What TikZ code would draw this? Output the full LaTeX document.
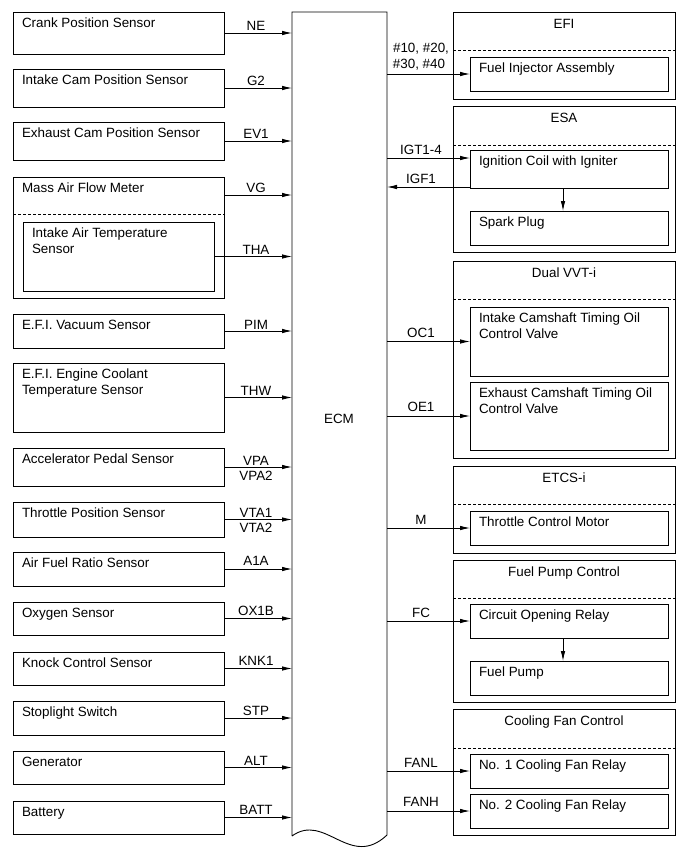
\documentclass[tikz,border=0pt]{standalone}
\usepackage{fontspec}
\setmainfont{Liberation Sans}
\usetikzlibrary{arrows.meta}
\tikzset{
  bx/.style={draw=black, line width=0.9pt, inner sep=0pt, outer sep=0pt, anchor=north west},
  txt/.style={inner sep=0pt, outer sep=0pt, anchor=base west, font=\fontsize{13.4}{16}\selectfont},
  lbl/.style={inner sep=0pt, outer sep=0pt, anchor=base, font=\fontsize{13.4}{16}\selectfont},
  sig/.style={line width=0.8pt, -{Latex[length=10pt,width=4.5pt]}},
  sep/.style={line width=0.8pt, dash pattern=on 3pt off 2pt},
}
\newcommand\mybox[5]{\node[bx, minimum width=#4pt, minimum height=#5pt] (#1) at (#2,#3) {};}
\newcommand\boxtxt[2]{\node[txt] (#1t) at ([shift={(9pt,-15.5pt)}]#1.north west) {#2};}
\newcommand\boxtxtb[3]{\node[txt] (#1t) at ([shift={(9pt,-15.5pt)}]#1.north west) {#2};
  \node[txt] (#1u) at ([shift={(9pt,-31.5pt)}]#1.north west) {#3};}
\newcommand\grptitle[2]{\node[lbl] (#1t) at ([yshift=-16.5pt]#1.north) {#2};}
\begin{document}
\begin{tikzpicture}[x=1pt,y=-1pt]
\useasboundingbox (0,0) rectangle (689,854);
% ECM
\node[inner sep=0pt, outer sep=0pt, minimum width=95pt, minimum height=824pt, anchor=north west] (ecm) at (292,12) {};
\draw[line width=0.9pt] (ecm.south west) -- (ecm.north west) -- (ecm.north east) -- ([yshift=1pt]ecm.south east)
  .. controls (350,870) and (325,812) .. (ecm.south west);
\node[lbl, anchor=center] (ecmt) at (339,419) {ECM};
% left boxes
\mybox{crank}{13}{12}{211}{42} \boxtxt{crank}{Crank Position Sensor}
\mybox{intake}{13}{69}{211}{38} \boxtxt{intake}{Intake Cam Position Sensor}
\mybox{exh}{13}{122}{211}{38} \boxtxt{exh}{Exhaust Cam Position Sensor}
\mybox{maf}{13}{177}{211}{121} \boxtxt{maf}{Mass Air Flow Meter}
\mybox{iat}{23}{222}{191}{69} \boxtxtb{iat}{Intake Air Temperature}{Sensor}
\mybox{vac}{13}{314}{211}{34} \boxtxt{vac}{E.F.I. Vacuum Sensor}
\mybox{ect}{13}{363}{211}{69} \boxtxtb{ect}{E.F.I. Engine Coolant}{Temperature Sensor}
\mybox{acc}{13}{448}{211}{38} \boxtxt{acc}{Accelerator Pedal Sensor}
\mybox{tps}{13}{502}{211}{35} \boxtxt{tps}{Throttle Position Sensor}
\mybox{afr}{13}{552}{211}{34} \boxtxt{afr}{Air Fuel Ratio Sensor}
\mybox{oxy}{13}{602}{211}{33} \boxtxt{oxy}{Oxygen Sensor}
\mybox{knk}{13}{652}{211}{33} \boxtxt{knk}{Knock Control Sensor}
\mybox{stp}{13}{701}{211}{34} \boxtxt{stp}{Stoplight Switch}
\mybox{gen}{13}{751}{211}{33} \boxtxt{gen}{Generator}
\mybox{bat}{13}{801}{211}{33} \boxtxt{bat}{Battery}
\coordinate (mafsep) at ([yshift=-37pt]maf.north west);
\draw[sep] (mafsep) -- (mafsep -| maf.east);
\coordinate (vgp) at ([yshift=-18pt]maf.north east);
% left arrows
\draw[sig] (crank.east) -- (crank.east -| ecm.west);
\draw[sig] (intake.east) -- (intake.east -| ecm.west);
\draw[sig] (exh.east) -- (exh.east -| ecm.west);
\draw[sig] (vgp) -- (vgp -| ecm.west);
\draw[sig] (iat.east) -- (iat.east -| ecm.west);
\draw[sig] (vac.east) -- (vac.east -| ecm.west);
\draw[sig] (ect.east) -- (ect.east -| ecm.west);
\draw[sig] (acc.east) -- (acc.east -| ecm.west);
\draw[sig] (tps.east) -- (tps.east -| ecm.west);
\draw[sig] (afr.east) -- (afr.east -| ecm.west);
\draw[sig] (oxy.east) -- (oxy.east -| ecm.west);
\draw[sig] (knk.east) -- (knk.east -| ecm.west);
\draw[sig] (stp.east) -- (stp.east -| ecm.west);
\draw[sig] (gen.east) -- (gen.east -| ecm.west);
\draw[sig] (bat.east) -- (bat.east -| ecm.west);
% left labels
\node[lbl] (lne) at (256,30) {NE};
\node[lbl] (lg2) at (256,85) {G2};
\node[lbl] (lev) at (256,138) {EV1};
\node[lbl] (lvg) at (256,192) {VG};
\node[lbl] (ltha) at (256,254) {THA};
\node[lbl] (lpim) at (256,329) {PIM};
\node[lbl] (lthw) at (256,395) {THW};
\node[lbl] (lvpa) at (256,465) {VPA};
\node[lbl] (lvpa2) at (256,480) {VPA2};
\node[lbl] (lvta1) at (256,517) {VTA1};
\node[lbl] (lvta2) at (256,532) {VTA2};
\node[lbl] (la1a) at (256,565) {A1A};
\node[lbl] (lox) at (256,615) {OX1B};
\node[lbl] (lknk) at (256,665) {KNK1};
\node[lbl] (lstp) at (256,715) {STP};
\node[lbl] (lalt) at (256,765) {ALT};
\node[lbl] (lbatt) at (256,814) {BATT};
% right groups
\mybox{efi}{453}{12}{222}{87} \grptitle{efi}{EFI}
\mybox{esa}{453}{106}{222}{146} \grptitle{esa}{ESA}
\mybox{vvt}{453}{261}{222}{197} \grptitle{vvt}{Dual VVT-i}
\mybox{etc}{453}{466}{222}{87} \grptitle{etc}{ETCS-i}
\mybox{fpc}{453}{560}{222}{142} \grptitle{fpc}{Fuel Pump Control}
\mybox{cfc}{453}{709}{222}{126} \grptitle{cfc}{Cooling Fan Control}
\draw[sep] ([yshift=-38pt]efi.north west) -- ([yshift=-38pt]efi.north east);
\draw[sep] ([yshift=-39pt]esa.north west) -- ([yshift=-39pt]esa.north east);
\draw[sep] ([yshift=-38pt]vvt.north west) -- ([yshift=-38pt]vvt.north east);
\draw[sep] ([yshift=-38pt]etc.north west) -- ([yshift=-38pt]etc.north east);
\draw[sep] ([yshift=-38pt]fpc.north west) -- ([yshift=-38pt]fpc.north east);
\draw[sep] ([yshift=-39pt]cfc.north west) -- ([yshift=-39pt]cfc.north east);
% right inner boxes
\mybox{inj}{470}{57}{198}{34} \boxtxt{inj}{Fuel Injector Assembly}
\mybox{ign}{470}{150}{198}{38} \boxtxt{ign}{Ignition Coil with Igniter}
\mybox{spk}{470}{211}{198}{34} \boxtxt{spk}{Spark Plug}
\mybox{icv}{470}{307}{198}{69} \boxtxtb{icv}{Intake Camshaft Timing Oil}{Control Valve}
\mybox{ecv}{470}{382}{198}{68} \boxtxtb{ecv}{Exhaust Camshaft Timing Oil}{Control Valve}
\mybox{tcm}{470}{511}{198}{34} \boxtxt{tcm}{Throttle Control Motor}
\mybox{cor}{470}{604}{198}{34} \boxtxt{cor}{Circuit Opening Relay}
\mybox{fp}{470}{661}{198}{34} \boxtxt{fp}{Fuel Pump}
\mybox{fr1}{470}{754}{198}{34} \boxtxt{fr1}{No. 1 Cooling Fan Relay}
\mybox{fr2}{470}{794}{198}{34} \boxtxt{fr2}{No. 2 Cooling Fan Relay}
% right arrows
\draw[sig] (inj.west -| ecm.east) -- (inj.west);
\coordinate (igt) at ([yshift=-8pt]ign.north west);
\coordinate (igf) at ([yshift=1pt]ign.south west);
\draw[sig] (igt -| ecm.east) -- (igt);
\draw[sig] (igf) -- (igf -| ecm.east);
\draw[sig] (icv.west -| ecm.east) -- (icv.west);
\draw[sig] (ecv.west -| ecm.east) -- (ecv.west);
\draw[sig] (tcm.west -| ecm.east) -- (tcm.west);
\draw[sig] (cor.west -| ecm.east) -- (cor.west);
\draw[sig] (fr1.west -| ecm.east) -- (fr1.west);
\draw[sig] (fr2.west -| ecm.east) -- (fr2.west);
\draw[sig] ([xshift=-6pt]ign.south) -- ([xshift=-6pt]spk.north);
\draw[sig] ([xshift=-6pt]cor.south) -- ([xshift=-6pt]fp.north);
% right labels
\node[lbl] (l10) at (421,52) {\#10, \#20,};
\node[lbl] (l30) at (419,68) {\#30, \#40};
\node[lbl] (ligt) at (421,154) {IGT1-4};
\node[lbl] (ligf) at (421,183) {IGF1};
\node[lbl] (loc) at (421,337) {OC1};
\node[lbl] (loe) at (421,411) {OE1};
\node[lbl] (lm) at (421,524) {M};
\node[lbl] (lfc) at (421,617) {FC};
\node[lbl] (lfanl) at (421,767) {FANL};
\node[lbl] (lfanh) at (421,806) {FANH};
\end{tikzpicture}
\end{document}
